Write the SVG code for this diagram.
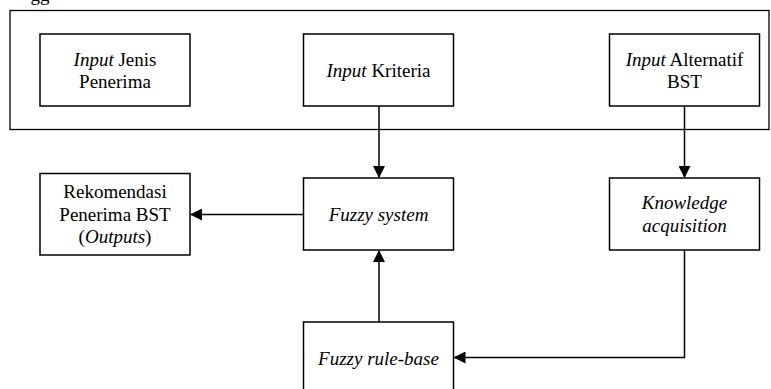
<svg xmlns="http://www.w3.org/2000/svg" width="771" height="389" viewBox="0 0 771 389">
<style>
  .box { fill: #ffffff; stroke: #000000; stroke-width: 1.5; }
  .frame { fill: none; stroke: #000000; stroke-width: 1.3; }
  .t { font-size: 19px; fill: #000000; text-anchor: middle; }
  .i { font-style: italic; }
  .edge { fill: none; stroke: #000000; stroke-width: 1.5; }
</style>
<defs>
  <marker id="arrow" viewBox="0 0 12 12" refX="11" refY="6" markerWidth="12" markerHeight="12" markerUnits="userSpaceOnUse" orient="auto">
    <path d="M0,0 L12,6 L0,12 Z" fill="#000000"/>
  </marker>
</defs>
<rect width="771" height="389" fill="#ffffff"/>
<g font-family="Liberation Serif, DejaVu Serif, serif">
<text class="t" x="40" y="1">gg</text>
<g id="frame">
  <rect class="frame" x="10" y="10.5" width="759" height="119"/>
</g>
<g id="input-jenis">
  <rect class="box" x="40" y="34" width="150" height="72"/>
  <text class="t" x="115" y="65.5"><tspan class="i">Input</tspan> Jenis</text>
  <text class="t" x="115" y="87.5">Penerima</text>
</g>
<g id="input-kriteria">
  <rect class="box" x="303.5" y="34" width="150" height="72"/>
  <text class="t" x="378.5" y="77"><tspan class="i">Input</tspan> Kriteria</text>
</g>
<g id="input-alternatif">
  <rect class="box" x="609.5" y="34" width="150" height="72"/>
  <text class="t" x="684.5" y="65.5"><tspan class="i">Input</tspan> Alternatif</text>
  <text class="t" x="684.5" y="87.5">BST</text>
</g>
<g id="rekomendasi">
  <rect class="box" x="40" y="173.5" width="150" height="81.5"/>
  <text class="t" x="115" y="197.5">Rekomendasi</text>
  <text class="t" x="115" y="220.5">Penerima BST</text>
  <text class="t" x="115" y="243">(<tspan class="i">Outputs</tspan>)</text>
</g>
<g id="fuzzy-system">
  <rect class="box" x="303.5" y="178" width="150" height="72"/>
  <text class="t i" x="378.5" y="221">Fuzzy system</text>
</g>
<g id="knowledge">
  <rect class="box" x="609.5" y="178" width="150" height="72"/>
  <text class="t i" x="684.5" y="208.5">Knowledge</text>
  <text class="t i" x="684.5" y="231.5">acquisition</text>
</g>
<g id="rule-base">
  <rect class="box" x="303.5" y="322" width="150" height="75"/>
  <text class="t i" x="378.5" y="364.5">Fuzzy rule-base</text>
</g>
</g>
<g id="connectors">
  <path class="edge" d="M379,106 L379,177" marker-end="url(#arrow)"/>
  <path class="edge" d="M684.5,106 L684.5,177" marker-end="url(#arrow)"/>
  <path class="edge" d="M303.5,214.5 L191,214.5" marker-end="url(#arrow)"/>
  <path class="edge" d="M379,322 L379,251" marker-end="url(#arrow)"/>
  <path class="edge" d="M684.5,250 L684.5,357.5 L454.5,357.5" marker-end="url(#arrow)"/>
</g>
</svg>
